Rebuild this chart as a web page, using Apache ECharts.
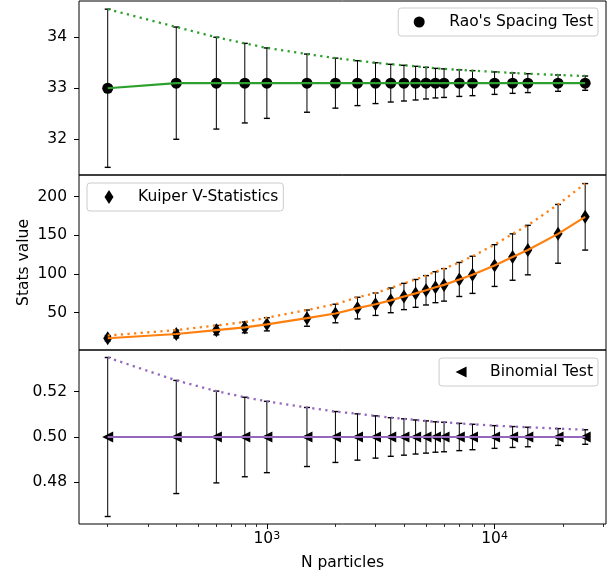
<!DOCTYPE html>
<html>
<head>
<meta charset="utf-8">
<script src="https://cdn.jsdelivr.net/npm/echarts@6/dist/echarts.min.js"></script>
<style>
  html, body { margin: 0; padding: 0; background: #fff; }
  #chart { width: 612px; height: 578px; }
</style>
</head>
<body>
<div id="chart"></div>
<script>
// Particle counts shared by all three panels
const nParticles = [200, 400, 600, 800, 1000, 1500, 2000, 2500, 3000, 3500, 4000,
                    4500, 5000, 5500, 6000, 7000, 8000, 10000, 12000, 14000, 19000, 25000];

// Rao's spacing test: mean and standard deviation
const raoMean = [33.0, 33.1, 33.1, 33.1, 33.1, 33.1, 33.1, 33.1, 33.1, 33.1, 33.1,
                 33.1, 33.1, 33.1, 33.1, 33.1, 33.1, 33.1, 33.1, 33.1, 33.1, 33.1];
const raoErr = [1.55, 1.10, 0.90, 0.78, 0.69, 0.57, 0.49, 0.44, 0.40, 0.37, 0.35,
                0.33, 0.31, 0.29, 0.28, 0.26, 0.245, 0.22, 0.20, 0.185, 0.16, 0.14];

// Kuiper V statistic: mean and standard deviation
const kuiperMean = [17, 22.5, 27.5, 31, 35, 43, 49, 56, 61, 66, 71,
                    75, 79, 83, 86, 93, 99, 111, 122, 131, 152, 174];
const kuiperErr = [3.5, 5, 6, 7, 8.5, 10.5, 12, 14, 14.5, 16, 17,
                   18, 19, 20, 21, 22, 24, 27, 30, 32, 38, 43];

// Binomial test: mean and standard deviation
const binomMean = [0.5, 0.5, 0.5, 0.5, 0.5, 0.5, 0.5, 0.5, 0.5, 0.5, 0.5,
                   0.5, 0.5, 0.5, 0.5, 0.5, 0.5, 0.5, 0.5, 0.5, 0.5, 0.5];
const binomErr = [0.035, 0.0249, 0.0202, 0.0175, 0.0157, 0.013, 0.0112, 0.0102, 0.0093, 0.0085, 0.008,
                  0.0075, 0.0071, 0.0067, 0.0065, 0.006, 0.0056, 0.005, 0.0046, 0.0043, 0.0037, 0.0032];

// Tick positions
const xMajorTicks = [1000, 10000];
const xMinorTicks = [200, 300, 400, 500, 600, 700, 800, 900,
                     2000, 3000, 4000, 5000, 6000, 7000, 8000, 9000, 20000, 30000];
const raoTicks = [32, 33, 34];
const kuiperTicks = [50, 100, 150, 200];
const binomTicks = [0.48, 0.50, 0.52];

const seriesNames = ["Rao's Spacing Test", 'Kuiper V-Statistics', 'Binomial Test'];

const FONT = 'DejaVu Sans';
const FS = 15.5;
const GREEN = '#2ca02c', ORANGE = '#ff7f0e', PURPLE = '#9467bd';

const X_MIN = 149.6, X_MAX = 30860;

const grids = [
  { left: 79, top: 1, width: 527, height: 174 },
  { left: 79, top: 175, width: 527, height: 175 },
  { left: 79, top: 350, width: 527, height: 174 }
].map(g => Object.assign(g, { show: true, borderColor: '#000', borderWidth: 1, backgroundColor: 'transparent' }));

function hiddenLogX(gridIndex) {
  return {
    type: 'log', logBase: 10, gridIndex, min: X_MIN, max: X_MAX, position: 'bottom', offset: 0,
    axisLine: { show: false }, axisTick: { show: false },
    axisLabel: { show: false }, splitLine: { show: false }
  };
}

const xAxes = [
  hiddenLogX(0),
  hiddenLogX(1),
  Object.assign(hiddenLogX(2), {
    axisTick: { show: true, customValues: xMajorTicks, length: 5, lineStyle: { color: '#000', width: 1 } },
    axisLabel: {
      show: true, customValues: xMajorTicks, margin: 7,
      formatter: v => '{b|10}{s|' + Math.round(Math.log10(v)) + '}',
      rich: {
        b: { fontFamily: FONT, fontSize: FS, color: '#000' },
        s: { fontFamily: FONT, fontSize: 11, color: '#000', verticalAlign: 'top' }
      }
    },
    name: 'N particles', nameLocation: 'middle', nameGap: 31, nameMoveOverlap: false,
    nameTextStyle: { fontFamily: FONT, fontSize: FS, color: '#000' }
  }),
  Object.assign(hiddenLogX(2), {
    axisTick: { show: true, customValues: xMinorTicks, length: 3, lineStyle: { color: '#000', width: 0.8 } }
  })
];

function yAxis(gridIndex, min, max, ticks, fmt, extra) {
  return Object.assign({
    type: 'value', gridIndex, min, max, position: 'left',
    axisLine: { show: false },
    axisTick: { show: true, customValues: ticks, length: 5, lineStyle: { color: '#000', width: 1 } },
    axisLabel: { show: true, customValues: ticks, margin: 12, formatter: fmt,
                 fontFamily: FONT, fontSize: FS, color: '#000' },
    splitLine: { show: false }
  }, extra || {});
}

const yAxes = [
  yAxis(0, 31.30, 34.71, raoTicks, v => String(Math.round(v))),
  yAxis(1, 1.8, 228.1, kuiperTicks, v => String(Math.round(v)), {
    name: 'Stats value', nameLocation: 'middle', nameGap: 47, nameMoveOverlap: false,
    nameTextStyle: { fontFamily: FONT, fontSize: FS, color: '#000' }
  }),
  yAxis(2, 0.4617, 0.5383, binomTicks, v => v.toFixed(2))
];

function errorBars(idx, means, errs) {
  return {
    type: 'custom', xAxisIndex: idx, yAxisIndex: idx, z: 1, silent: true,
    data: nParticles.map((n, i) => [n, means[i] - errs[i], means[i] + errs[i]]),
    encode: { x: 0, y: [1, 2] },
    renderItem(params, api) {
      const x = api.value(0);
      const lo = api.coord([x, api.value(1)]);
      const hi = api.coord([x, api.value(2)]);
      const cap = 3;
      const capStyle = { stroke: '#000', lineWidth: 1.4 };
      return {
        type: 'group',
        children: [
          { type: 'line', shape: { x1: lo[0], y1: lo[1], x2: hi[0], y2: hi[1] },
            style: { stroke: '#000', lineWidth: 1 } },
          { type: 'line', shape: { x1: lo[0] - cap, y1: lo[1], x2: lo[0] + cap, y2: lo[1] }, style: capStyle },
          { type: 'line', shape: { x1: hi[0] - cap, y1: hi[1], x2: hi[0] + cap, y2: hi[1] }, style: capStyle }
        ]
      };
    }
  };
}

function markers(idx, name, means, symbol, size, rotate) {
  return {
    type: 'scatter', name, xAxisIndex: idx, yAxisIndex: idx, z: 2,
    data: nParticles.map((n, i) => [n, means[i]]),
    symbol, symbolSize: size, symbolRotate: rotate || 0,
    itemStyle: { color: '#000', opacity: 1 }
  };
}

function meanLine(idx, means, color) {
  return {
    type: 'line', xAxisIndex: idx, yAxisIndex: idx, z: 3, silent: true,
    data: nParticles.map((n, i) => [n, means[i]]),
    symbol: 'none', lineStyle: { color, width: 2.2 }
  };
}

function upperLine(idx, means, errs, color) {
  return {
    type: 'line', xAxisIndex: idx, yAxisIndex: idx, z: 3, silent: true,
    data: nParticles.map((n, i) => [n, means[i] + errs[i]]),
    symbol: 'none', lineStyle: { color, width: 2.3, type: [2.2, 4.4] }
  };
}

const series = [
  errorBars(0, raoMean, raoErr),
  markers(0, seriesNames[0], raoMean, 'circle', 11),
  meanLine(0, raoMean, GREEN),
  upperLine(0, raoMean, raoErr, GREEN),

  errorBars(1, kuiperMean, kuiperErr),
  markers(1, seriesNames[1], kuiperMean, 'diamond', [9, 14]),
  meanLine(1, kuiperMean, ORANGE),
  upperLine(1, kuiperMean, kuiperErr, ORANGE),

  errorBars(2, binomMean, binomErr),
  markers(2, seriesNames[2], binomMean, 'triangle', 11, 90),
  meanLine(2, binomMean, PURPLE),
  upperLine(2, binomMean, binomErr, PURPLE)
];

function legendBox(item, pos, iconW, iconH, padLeft, textPad) {
  return Object.assign({
    data: [item], orient: 'horizontal',
    itemWidth: iconW, itemHeight: iconH,
    padding: [6, 5, 6, padLeft],
    backgroundColor: 'rgba(255,255,255,0.8)',
    borderColor: '#cccccc', borderWidth: 1, borderRadius: 3,
    selectedMode: false,
    textStyle: { fontFamily: FONT, fontSize: FS, color: '#000', padding: [0, 0, 0, textPad] }
  }, pos);
}

const option = {
  animation: false,
  backgroundColor: '#fff',
  grid: grids,
  xAxis: xAxes,
  yAxis: yAxes,
  legend: [
    legendBox(seriesNames[0], { right: 14, top: 8 }, 11, 11, 15.5, 19.5),
    legendBox(seriesNames[1], { left: 87, top: 183 }, 9, 14, 17.5, 19.5),
    // left-pointing triangle icon to match the rotated markers
    legendBox({ name: seriesNames[2], icon: 'path://M0,5L10,0L10,10Z' },
              { right: 14, top: 358 }, 11, 11, 16.5, 18.5)
  ],
  series
};

const chart = echarts.init(document.getElementById('chart'), null, { renderer: 'canvas' });
chart.setOption(option);
</script>
</body>
</html>
